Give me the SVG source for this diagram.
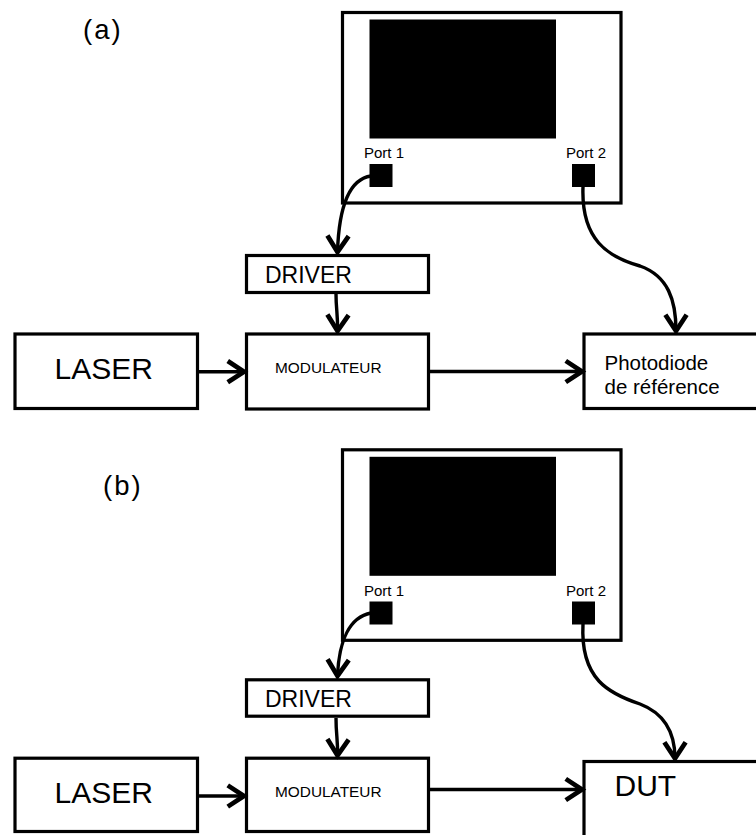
<svg xmlns="http://www.w3.org/2000/svg" width="756" height="835" viewBox="0 0 756 835">
<defs>
<style>
.box{fill:#fff;stroke:#000;stroke-width:3.2}
.solid{fill:#000;stroke:none}
.t{font-family:"Liberation Sans",Arial,sans-serif;fill:#000}
.c{fill:none;stroke:#000;stroke-width:3.4;stroke-linecap:butt}
</style>
<marker id="ah" markerUnits="userSpaceOnUse" markerWidth="30" markerHeight="30" refX="0" refY="0" viewBox="-18 -12 22 24" orient="auto" overflow="visible">
<path d="M -13 -8.5 L 0 0 L -13 8.5" fill="none" stroke="#000" stroke-width="3.8" stroke-linejoin="miter"/>
</marker>
</defs>
<rect width="756" height="835" fill="#fff"/>

<g id="label-a"><text class="t" x="83" y="39" font-size="27.5" letter-spacing="2">(a)</text></g>
<g id="label-b"><text class="t" x="103" y="495" font-size="27.5" letter-spacing="2">(b)</text></g>

<!-- (a) -->
<g id="instrument-a">
<rect class="box" x="342.5" y="12.5" width="278.5" height="190.5"/>
<rect class="solid" x="369.5" y="19.5" width="186.5" height="119"/>
</g>
<g id="port1-a">
<text class="t" x="364" y="158" font-size="15">Port 1</text>
<rect class="solid" x="369.5" y="164" width="23" height="23"/>
</g>
<g id="port2-a">
<text class="t" x="566" y="158" font-size="15">Port 2</text>
<rect class="solid" x="572" y="164" width="23" height="23"/>
</g>
<g id="driver-a">
<rect class="box" x="246.5" y="255.5" width="182" height="37"/>
<text class="t" x="265" y="283" font-size="23">DRIVER</text>
</g>
<g id="laser-a">
<rect class="box" x="15" y="334" width="182.5" height="74.5"/>
<text class="t" x="54.5" y="379" font-size="30">LASER</text>
</g>
<g id="modulateur-a">
<rect class="box" x="246.5" y="334" width="182" height="75"/>
<text class="t" x="275" y="372.7" font-size="15.4">MODULATEUR</text>
</g>
<g id="photodiode-a">
<rect class="box" x="584" y="334" width="200" height="74.5"/>
<text class="t" x="604.5" y="370" font-size="20.5">Photodiode</text>
<text class="t" x="604.5" y="394" font-size="20.5">de référence</text>
</g>

<!-- (b) -->
<g id="instrument-b">
<rect class="box" x="342.5" y="449.8" width="278.5" height="190.5"/>
<rect class="solid" x="369.5" y="456.8" width="186.5" height="119"/>
</g>
<g id="port1-b">
<text class="t" x="364" y="595.7" font-size="15">Port 1</text>
<rect class="solid" x="369.5" y="601.5" width="23" height="23"/>
</g>
<g id="port2-b">
<text class="t" x="566" y="595.7" font-size="15">Port 2</text>
<rect class="solid" x="572" y="601.5" width="23" height="23"/>
</g>
<g id="driver-b">
<rect class="box" x="246.5" y="679.8" width="182" height="36.4"/>
<text class="t" x="265" y="707" font-size="23">DRIVER</text>
</g>
<g id="laser-b">
<rect class="box" x="15" y="758.2" width="182.5" height="73.3"/>
<text class="t" x="54.5" y="803" font-size="30">LASER</text>
</g>
<g id="modulateur-b">
<rect class="box" x="246.5" y="758.2" width="182" height="73.3"/>
<text class="t" x="275" y="796.7" font-size="15.4">MODULATEUR</text>
</g>
<g id="dut-b">
<rect class="box" x="584" y="761.5" width="200" height="100"/>
<text class="t" x="614.5" y="795.7" font-size="30">DUT</text>
</g>

<g id="connectors">
<!-- (a) -->
<path class="c" d="M 371 176 C 350 179, 339 205, 337.5 252" marker-end="url(#ah)"/>
<path class="c" d="M 336 294 C 336 310, 338 314, 337.5 331" marker-end="url(#ah)"/>
<path class="c" d="M 583 187 C 581 240, 608 257, 640 266 C 668 276, 676 300, 676 331" marker-end="url(#ah)"/>
<path class="c" d="M 199 371.7 L 244 371.7" marker-end="url(#ah)"/>
<path class="c" d="M 430 371.5 L 582 371.5" marker-end="url(#ah)"/>
<!-- (b) -->
<path class="c" d="M 371 613 C 350 617, 339 640, 337.5 676" marker-end="url(#ah)"/>
<path class="c" d="M 336 718 C 336 735, 338 740, 337.5 755.5" marker-end="url(#ah)"/>
<path class="c" d="M 583 624 C 580 680, 610 694, 640 704 C 666 714, 675 735, 675 758.5" marker-end="url(#ah)"/>
<path class="c" d="M 199 796 L 244 796" marker-end="url(#ah)"/>
<path class="c" d="M 430 789.5 L 582 789.5" marker-end="url(#ah)"/>
</g>
</svg>
